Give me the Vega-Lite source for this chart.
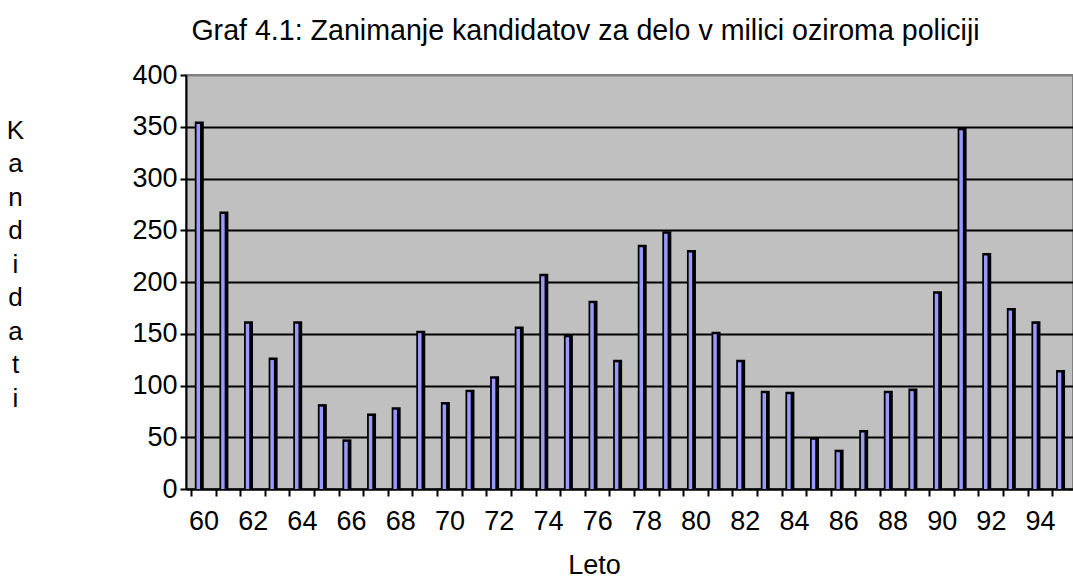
{
  "$schema": "https://vega.github.io/schema/vega-lite/v6.json",
  "autosize": {"type": "none"},
  "padding": {"left": 186, "top": 75, "right": 0, "bottom": 90},
  "width": 887,
  "height": 414,
  "background": "white",
  "config": {
    "font": "Liberation Sans",
    "view": {"fill": "#c0c0c0", "stroke": "#808080", "strokeWidth": 2}
  },
  "title": {
    "text": "Graf 4.1: Zanimanje kandidatov za delo v milici oziroma policiji",
    "font": "Liberation Sans",
    "fontSize": 28.6,
    "fontWeight": "normal",
    "color": "black",
    "anchor": "middle",
    "frame": "group",
    "dx": -44,
    "baseline": "alphabetic",
    "offset": -8
  },
  "data": {
    "values": [
      {"leto": 60, "kandidati": 355},
      {"leto": 61, "kandidati": 268},
      {"leto": 62, "kandidati": 162},
      {"leto": 63, "kandidati": 127},
      {"leto": 64, "kandidati": 162},
      {"leto": 65, "kandidati": 82},
      {"leto": 66, "kandidati": 48},
      {"leto": 67, "kandidati": 73},
      {"leto": 68, "kandidati": 79},
      {"leto": 69, "kandidati": 153},
      {"leto": 70, "kandidati": 84},
      {"leto": 71, "kandidati": 96},
      {"leto": 72, "kandidati": 109},
      {"leto": 73, "kandidati": 157},
      {"leto": 74, "kandidati": 208},
      {"leto": 75, "kandidati": 149},
      {"leto": 76, "kandidati": 182},
      {"leto": 77, "kandidati": 125},
      {"leto": 78, "kandidati": 236},
      {"leto": 79, "kandidati": 249},
      {"leto": 80, "kandidati": 231},
      {"leto": 81, "kandidati": 152},
      {"leto": 82, "kandidati": 125},
      {"leto": 83, "kandidati": 95},
      {"leto": 84, "kandidati": 94},
      {"leto": 85, "kandidati": 50},
      {"leto": 86, "kandidati": 38},
      {"leto": 87, "kandidati": 57},
      {"leto": 88, "kandidati": 95},
      {"leto": 89, "kandidati": 97},
      {"leto": 90, "kandidati": 191},
      {"leto": 91, "kandidati": 349},
      {"leto": 92, "kandidati": 228},
      {"leto": 93, "kandidati": 175},
      {"leto": 94, "kandidati": 162},
      {"leto": 95, "kandidati": 115}
    ]
  },
  "encoding": {
    "x": {
      "field": "leto",
      "type": "quantitative",
      "scale": {"domain": [59.5, 95.14], "nice": false, "zero": false},
      "axis": {
        "values": [59.5, 60.5, 61.5, 62.5, 63.5, 64.5, 65.5, 66.5, 67.5, 68.5, 69.5, 70.5, 71.5, 72.5, 73.5, 74.5, 75.5, 76.5, 77.5, 78.5, 79.5, 80.5, 81.5, 82.5, 83.5, 84.5, 85.5, 86.5, 87.5, 88.5, 89.5, 90.5, 91.5, 92.5, 93.5, 94.5],
        "labelExpr": "(datum.value + 0.5) % 2 == 0 ? format(datum.value + 0.5, 'd') : ''",
        "labelOffset": 12.45,
        "labelOverlap": false,
        "labelFlush": false,
        "labelBound": false,
        "labelFont": "Liberation Sans",
        "labelFontSize": 27,
        "labelColor": "black",
        "labelPadding": 12,
        "grid": false,
        "domainColor": "black",
        "domainWidth": 2,
        "tickColor": "black",
        "tickWidth": 2,
        "tickSize": 7,
        "title": "Leto",
        "titleFont": "Liberation Sans",
        "titleFontSize": 27,
        "titleFontWeight": "normal",
        "titleColor": "black",
        "titleX": 408,
        "titleY": 76,
        "titleAlign": "center",
        "titleBaseline": "middle"
      }
    },
    "y": {
      "field": "kandidati",
      "type": "quantitative",
      "scale": {"domain": [0, 400], "nice": false},
      "axis": {
        "values": [0, 50, 100, 150, 200, 250, 300, 350, 400],
        "labelFont": "Liberation Sans",
        "labelFontSize": 27,
        "labelColor": "black",
        "labelPadding": 3,
        "grid": true,
        "gridColor": {"condition": {"test": "datum.value == 400", "value": "#808080"}, "value": "black"},
        "gridWidth": 2,
        "domainColor": "black",
        "domainWidth": 2,
        "tickColor": "black",
        "tickWidth": 2,
        "tickSize": 6,
        "title": ["K", "a", "n", "d", "i", "d", "a", "t", "i"],
        "titleFont": "Liberation Sans",
        "titleFontSize": 26,
        "titleFontWeight": "normal",
        "titleColor": "black",
        "titleAngle": 0,
        "titleAlign": "center",
        "titleBaseline": "top",
        "titleX": -171,
        "titleY": 42,
        "titleLineHeight": 33.5
      }
    }
  },
  "layer": [
    {
      "mark": {"type": "bar", "color": "black", "size": 9, "xOffset": -4, "clip": true}
    },
    {
      "mark": {"type": "bar", "color": "#9999ff", "size": 3.5, "xOffset": -5, "yOffset": 2.5, "clip": true}
    }
  ]
}
